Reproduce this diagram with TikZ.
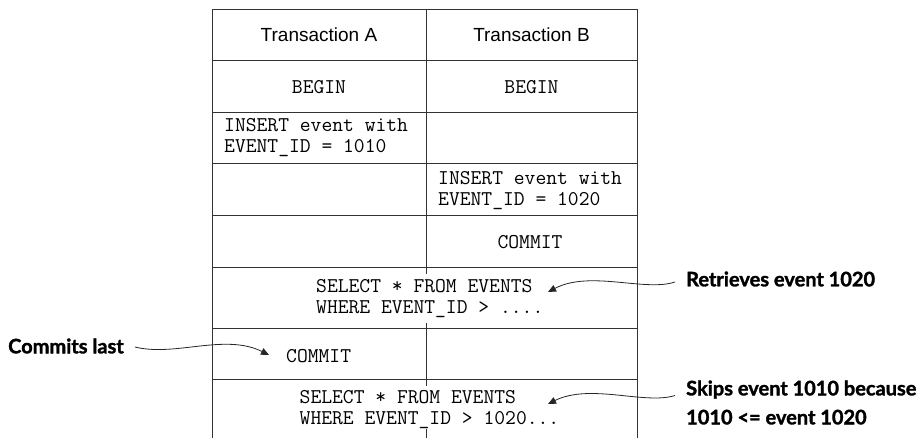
\documentclass[tikz,border=0pt]{standalone}
\usepackage{fontspec}
\setmainfont{Liberation Sans}
\setmonofont{Latin Modern Mono}
\newfontfamily\annofont{Lato}[BoldFeatures={FakeBold=1.6}]
\usetikzlibrary{arrows.meta}
\begin{document}
\begin{tikzpicture}[x=1pt,y=-1pt,
  grid/.style={line width=1pt, draw=black!80},
  hdr/.style={font=\fontsize{19}{22}\selectfont, inner sep=0pt},
  code/.style={font=\ttfamily\fontsize{21}{21}\selectfont, inner sep=0pt, align=left},
  note/.style={font=\annofont\bfseries\fontsize{20}{29}\selectfont, inner sep=0pt, align=left},
  callout/.style={line width=0.8pt, draw=black!85, -{Triangle[length=8pt,width=7pt]}}]
\useasboundingbox (0,0) rectangle (920,438);
% table
\draw[grid] (212,438) -- (212,10) -- (637,10) -- (637,438);
\foreach \yy in {61,113,164,216,267,328,379}
  \draw[grid] (212,\yy) -- (637,\yy);
\draw[grid] (426,10) -- (426,274);
\draw[grid] (426,323) -- (426,386);
\draw[grid] (426,429) -- (426,438);
% cells
\node[hdr] (ha) at (319,35) {Transaction A};
\node[hdr] (hb) at (531.5,35) {Transaction B};
\node[code] (beginA) at (319,87) {BEGIN};
\node[code] (beginB) at (531.5,87) {BEGIN};
\node[code, anchor=west] (insA) at (224,138) {INSERT event with\\EVENT\_ID = 1010};
\node[code, anchor=west] (insB) at (438,191) {INSERT event with\\EVENT\_ID = 1020};
\node[code] (commitB) at (530,242.5) {COMMIT};
\node[code, anchor=west] (sel1) at (316,298.5) {SELECT * FROM EVENTS\\WHERE EVENT\_ID > ....};
\node[code, anchor=west] (commitA) at (286,356.5) {COMMIT};
\node[code, anchor=west] (sel2) at (299.5,409.5) {SELECT * FROM EVENTS\\WHERE EVENT\_ID > 1020...};
% annotations
\node[note, anchor=west] (ret) at (686,279) {Retrieves event 1020};
\node[note, anchor=west] (skip) at (686,402.5) {Skips event 1010 because\\1010 <= event 1020};
\node[note, anchor=west] (last) at (8,346) {Commits last};
\coordinate (tipRet) at (548,292);
\coordinate (tipSkip) at (548,404);
\coordinate (tipLast) at (269,355);
\draw[callout] ([shift={(-11,3)}]ret.west) .. controls (645,292) and (590,270) .. (tipRet);
\draw[callout] ([shift={(-11,-7)}]skip.west) .. controls (645,405) and (590,383) .. (tipSkip);
\draw[callout] ([shift={(11,1)}]last.east) .. controls (175,357) and (225,333) .. (tipLast);
\end{tikzpicture}
\end{document}
